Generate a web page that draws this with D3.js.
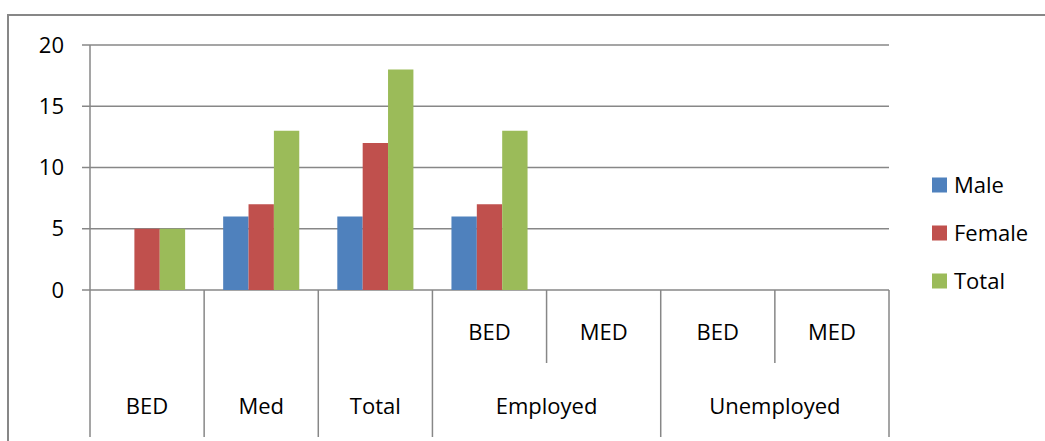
<!DOCTYPE html>
<html><head><meta charset="utf-8">
<script src="https://cdn.jsdelivr.net/npm/d3@7"></script>
<style>
html,body{margin:0;padding:0;background:#fff;}
svg{display:block;}
text{font-family:"Open Sans","Noto Sans",sans-serif;fill:#000;}
</style></head>
<body>
<svg id="c" width="1045" height="441"></svg>
<script>
// ---- data ----
const groupLabels = ["BED", "Med", "Total", "Employed", "Unemployed"];
const groupSizes  = [1, 1, 1, 2, 2];
const subLabels   = ["", "", "", "BED", "MED", "BED", "MED"];
const seriesNames = ["Male", "Female", "Total"];
const male   = [0, 6, 6, 6, 0, 0, 0];
const female = [5, 7, 12, 7, 0, 0, 0];
const total  = [5, 13, 18, 13, 0, 0, 0];
const yTicks = [0, 5, 10, 15, 20];
const colors = ["#4F81BD", "#C0504D", "#9BBB59"];

// ---- layout ----
const svg = d3.select("#c");
const L = 90, R = 889, T = 45, B = 290;
const gridColor = "#878787";
const fs = 22;

const idx = d3.range(subLabels.length);
const x = d3.scaleBand().domain(idx).range([L, R]).padding(0);
const bw = x.bandwidth();
const x1 = d3.scaleBand().domain(seriesNames).range([bw / 6, bw * 5 / 6]).padding(0);
const y = d3.scaleLinear().domain([0, 20]).range([B, T]);

// outer frame
svg.append("rect").attr("x", 8).attr("y", 15).attr("width", 1100).attr("height", 500)
  .attr("fill", "none").attr("stroke", gridColor).attr("stroke-width", 2);

// gridlines + tick marks
svg.append("g").selectAll("line").data(yTicks).join("line")
  .attr("x1", L - 8).attr("x2", R)
  .attr("y1", d => y(d)).attr("y2", d => y(d))
  .attr("stroke", gridColor).attr("stroke-width", 1.5);

// y axis line
svg.append("line").attr("x1", L).attr("x2", L).attr("y1", T).attr("y2", B)
  .attr("stroke", gridColor).attr("stroke-width", 1.5);

// y labels
svg.append("g").selectAll("text").data(yTicks).join("text")
  .attr("x", L - 26).attr("y", d => y(d)).attr("dy", "0.35em")
  .attr("text-anchor", "end").attr("font-size", fs).text(d => d);

// bars
const seriesData = [male, female, total];
seriesNames.forEach((s, si) => {
  svg.append("g").selectAll("rect").data(idx.filter(i => seriesData[si][i] > 0)).join("rect")
    .attr("x", i => x(i) + x1(s))
    .attr("width", x1.bandwidth())
    .attr("y", i => y(seriesData[si][i]))
    .attr("height", i => y(0) - y(seriesData[si][i]))
    .attr("fill", colors[si]);
});

// hierarchical x axis
const subBottom = 363, axBottom = 437;
const gStarts = [];
let acc = 0;
groupSizes.forEach(n => { gStarts.push(acc); acc += n; });
const boundaries = [];
for (let i = 0; i <= idx.length; i++) {
  const isGroup = i === idx.length || gStarts.includes(i);
  const xp = i === idx.length ? R : x(i);
  boundaries.push({ xp, bottom: isGroup ? axBottom : subBottom });
}
svg.append("g").selectAll("line").data(boundaries).join("line")
  .attr("x1", d => d.xp).attr("x2", d => d.xp)
  .attr("y1", B).attr("y2", d => d.bottom)
  .attr("stroke", gridColor).attr("stroke-width", 1.5);

// sub labels
svg.append("g").selectAll("text").data(idx.filter(i => subLabels[i])).join("text")
  .attr("x", i => x(i) + bw / 2).attr("y", 332).attr("dy", "0.35em")
  .attr("text-anchor", "middle").attr("font-size", fs).text(i => subLabels[i]);

// group labels
svg.append("g").selectAll("text").data(groupLabels).join("text")
  .attr("x", (d, gi) => (x(gStarts[gi]) + x(gStarts[gi] + groupSizes[gi] - 1) + bw) / 2)
  .attr("y", 406).attr("dy", "0.35em")
  .attr("text-anchor", "middle").attr("font-size", fs).text(d => d);

// legend
const lg = svg.append("g");
seriesNames.forEach((s, si) => {
  const cy = 185 + si * 48;
  lg.append("rect").attr("x", 932).attr("y", cy - 7.5).attr("width", 15).attr("height", 15).attr("fill", colors[si]);
  lg.append("text").attr("x", 954).attr("y", cy).attr("dy", "0.35em").attr("font-size", fs).text(s);
});
</script>
</body></html>
